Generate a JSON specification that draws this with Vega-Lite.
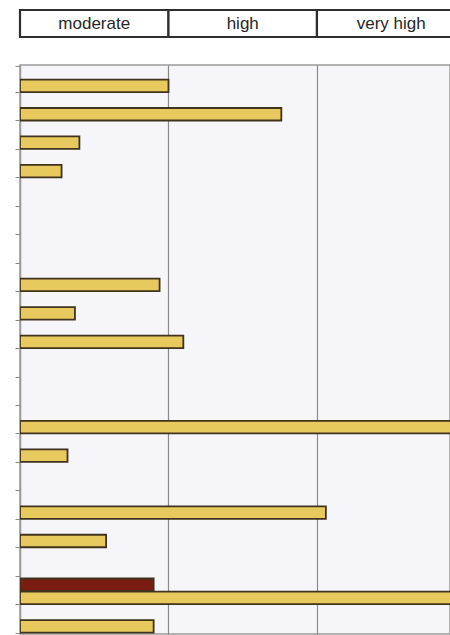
{
  "$schema": "https://vega.github.io/schema/vega-lite/v6.json",
  "padding": {"left": 13, "top": 8, "right": 0, "bottom": 2},
  "background": "white",
  "spacing": 25,
  "config": {"font": "Liberation Sans"},
  "datasets": {
    "header": [
      {"level": "moderate", "start": 0, "end": 1},
      {"level": "high", "start": 1, "end": 2},
      {"level": "very high", "start": 2, "end": 3}
    ],
    "bars": [
      {"row": 1, "series": "B", "value": 1.0},
      {"row": 2, "series": "B", "value": 1.76},
      {"row": 3, "series": "B", "value": 0.4},
      {"row": 4, "series": "B", "value": 0.28},
      {"row": 8, "series": "B", "value": 0.94},
      {"row": 9, "series": "B", "value": 0.37},
      {"row": 10, "series": "B", "value": 1.1},
      {"row": 13, "series": "B", "value": 3.2},
      {"row": 14, "series": "B", "value": 0.32},
      {"row": 16, "series": "B", "value": 2.06},
      {"row": 17, "series": "B", "value": 0.58},
      {"row": 19, "series": "A", "value": 0.9},
      {"row": 19, "series": "B", "value": 3.2},
      {"row": 20, "series": "B", "value": 0.9}
    ]
  },
  "vconcat": [
    {
      "width": 430,
      "height": 27,
      "view": {"stroke": null, "fill": null},
      "data": {"name": "header"},
      "layer": [
        {
          "mark": {"type": "rect", "fill": "white", "stroke": "#2e2e2e", "strokeWidth": 2.2},
          "encoding": {
            "x": {"field": "start", "type": "quantitative", "scale": {"domain": [0, 2.896], "nice": false, "zero": false}, "axis": null},
            "x2": {"field": "end"}
          }
        },
        {
          "mark": {"type": "text", "fontSize": 17, "color": "#262626"},
          "encoding": {
            "x": {"field": "mid", "type": "quantitative", "scale": {"domain": [0, 2.896], "nice": false, "zero": false}, "axis": null},
            "text": {"field": "level"}
          },
          "transform": [{"calculate": "(datum.start + datum.end) / 2", "as": "mid"}]
        }
      ]
    },
    {
      "width": 430,
      "height": 569,
      "view": {"stroke": "#9a9a9a", "strokeWidth": 1.5, "fill": "#f5f5fa"},
      "data": {"name": "bars"},
      "mark": {"type": "bar", "clip": true, "stroke": "#40331d", "strokeWidth": 1.8},
      "encoding": {
        "y": {
          "field": "row", "type": "ordinal",
          "scale": {"domain": [1,2,3,4,5,6,7,8,9,10,11,12,13,14,15,16,17,18,19,20], "paddingInner": 0.1, "paddingOuter": 0.05},
          "axis": {"labels": false, "title": null, "tickBand": "extent", "ticks": true, "tickSize": 5, "tickColor": "#888888", "domainColor": "#9a9a9a", "domainWidth": 1.5, "grid": false}
        },
        "yOffset": {"field": "series", "type": "nominal", "scale": {"domain": ["A", "B"], "paddingInner": 0.05}},
        "x": {
          "field": "value", "type": "quantitative",
          "scale": {"domain": [0, 2.896], "nice": false, "zero": true},
          "axis": {"values": [1, 2], "labels": false, "ticks": false, "domain": false, "title": null, "grid": true, "gridColor": "#8a8a8a", "gridWidth": 1.2}
        },
        "color": {
          "field": "series", "type": "nominal",
          "scale": {"domain": ["A", "B"], "range": ["#7a1c12", "#e8c95e"]},
          "legend": null
        }
      }
    }
  ]
}
